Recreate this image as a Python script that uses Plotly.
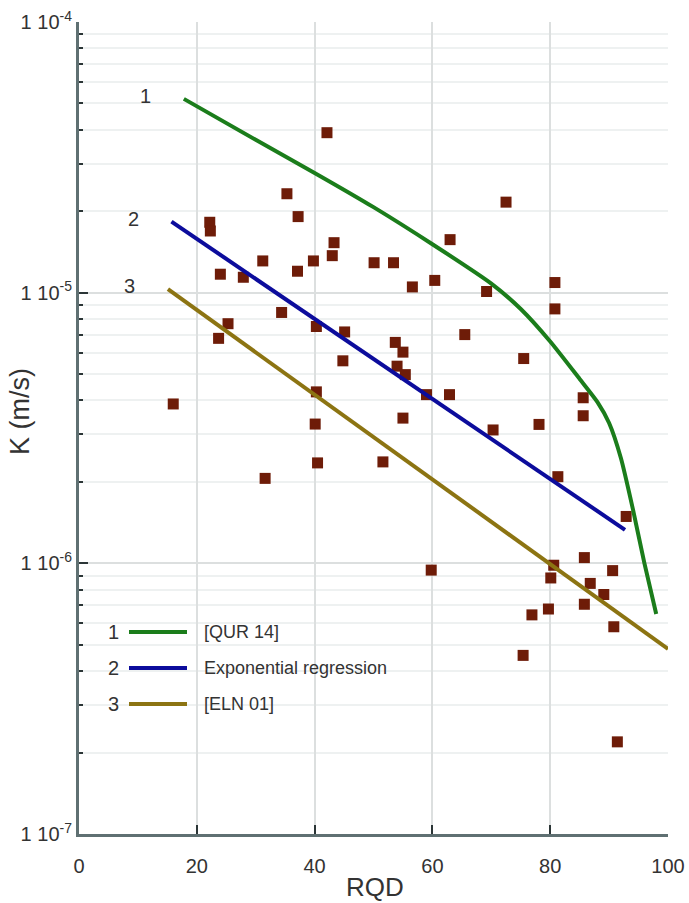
import math
import plotly.graph_objects as go

# Measured hydraulic conductivity vs RQD
rqd_obs = [16.0, 22.2, 22.3, 23.7, 24.0, 25.3, 27.9, 31.2, 31.6, 34.4, 35.3, 37.1,
           37.2, 39.8, 40.1, 40.3, 40.3, 40.5, 42.1, 43.0, 43.3, 44.8, 45.1, 50.1,
           51.6, 53.4, 53.7, 54.0, 55.0, 55.0, 55.4, 56.6, 59.0, 59.8, 60.4, 62.9,
           63.0, 65.5, 69.2, 70.3, 72.5, 75.4, 75.5, 76.9, 78.1, 79.7, 80.1, 80.6,
           80.8, 80.8, 81.3, 85.6, 85.6, 85.8, 85.8, 86.8, 89.1, 90.6, 90.8, 91.4,
           92.9]
k_obs = [3.88e-6, 1.82e-5, 1.69e-5, 6.78e-6, 1.17e-5, 7.68e-6, 1.14e-5, 1.31e-5,
         2.06e-6, 8.45e-6, 2.32e-5, 1.20e-5, 1.91e-5, 1.31e-5, 3.27e-6, 7.50e-6,
         4.30e-6, 2.35e-6, 3.90e-5, 1.37e-5, 1.53e-5, 5.60e-6, 7.16e-6, 1.29e-5,
         2.37e-6, 1.29e-5, 6.55e-6, 5.35e-6, 6.03e-6, 3.44e-6, 4.98e-6, 1.05e-5,
         4.20e-6, 9.44e-7, 1.11e-5, 4.20e-6, 1.57e-5, 7.00e-6, 1.01e-5, 3.11e-6,
         2.16e-5, 4.57e-7, 5.71e-6, 6.45e-7, 3.26e-6, 6.78e-7, 8.83e-7, 9.84e-7,
         1.09e-5, 8.71e-6, 2.09e-6, 4.09e-6, 3.51e-6, 1.05e-6, 7.06e-7, 8.43e-7,
         7.67e-7, 9.40e-7, 5.83e-7, 2.19e-7, 1.49e-6]

# Curve 1: [QUR 14]
rqd_qur = [17.8, 30, 40, 50, 60, 70, 75, 80, 85, 88, 90, 92, 94, 96, 98]
k_qur = [5.2e-5, 3.67e-5, 2.77e-5, 2.07e-5, 1.51e-5, 1.08e-5, 8.7e-6, 6.6e-6,
         4.8e-6, 3.95e-6, 3.3e-6, 2.45e-6, 1.6e-6, 1.0e-6, 6.5e-7]

# Curve 2: exponential regression
rqd_reg = [15.7, 92.7]
k_reg = [1.83e-5, 1.33e-6]

# Curve 3: [ELN 01]
rqd_eln = [15.1, 100]
k_eln = [1.03e-5, 4.83e-7]

# Axis ticks
y_major = [1e-7, 1e-6, 1e-5, 1e-4]
y_major_text = ["1 10<sup>-7</sup>", "1 10<sup>-6</sup>", "1 10<sup>-5</sup>", "1 10<sup>-4</sup>"]
mantissas = [2, 3, 4, 5, 6, 7, 8, 9]
y_minor = [m * d for d in [1e-7, 1e-6, 1e-5] for m in mantissas]
x_ticks = [0, 20, 40, 60, 80, 100]

series = [
    ("1", "[QUR 14]", "#1b7d1b", rqd_qur, k_qur, "spline"),
    ("2", "Exponential regression", "#0c0c9c", rqd_reg, k_reg, "linear"),
    ("3", "[ELN 01]", "#8c7412", rqd_eln, k_eln, "linear"),
]

MARKER = "#6e1c08"
AXIS = "#5f7072"
TICK = "#2b3536"
TEXT = "#333333"
FONT = "Liberation Sans, Arial, sans-serif"

fig = go.Figure()

fig.add_trace(go.Scatter(
    x=rqd_obs, y=k_obs, mode="markers",
    marker=dict(symbol="square", size=11, color=MARKER, line=dict(width=0)),
    showlegend=False, hoverinfo="x+y",
))

for num, name, color, xs, ys, shape in series:
    fig.add_trace(go.Scatter(
        x=xs, y=ys, mode="lines", name=name,
        line=dict(color=color, width=4, shape=shape, smoothing=0.6),
        showlegend=False,
    ))

annotations = []
shapes = []

# Curve number labels next to the start of each curve
for num, _, _, xs, ys, _ in series:
    annotations.append(dict(
        x=xs[0] - 6.5, y=math.log10(ys[0]) + 0.01, xref="x", yref="y",
        text=num, showarrow=False, font=dict(size=20, color=TEXT, family=FONT),
        xanchor="center", yanchor="middle",
    ))

# Hand-built key in the lower-left corner
W, H = 689, 903
L, R, T, B = 79, 21, 22, 69
pw, ph = W - L - R, H - T - B


def px(xp):
    return (xp - L) / pw


def py(yp):
    return 1 - (yp - T) / ph


shapes.append(dict(type="rect", xref="paper", yref="paper",
                   x0=px(84), x1=px(400), y0=py(722), y1=py(600),
                   fillcolor="white", line=dict(width=0), layer="between"))

key_rows = [632, 668, 704]
for (num, name, color, *_), yrow in zip(series, key_rows):
    annotations.append(dict(x=px(113), y=py(yrow), xref="paper", yref="paper",
                            text=num, showarrow=False, xanchor="center", yanchor="middle",
                            font=dict(size=20, color=TEXT, family=FONT)))
    shapes.append(dict(type="line", xref="paper", yref="paper",
                       x0=px(129), x1=px(187), y0=py(yrow), y1=py(yrow),
                       line=dict(color=color, width=4), layer="above"))
    annotations.append(dict(x=px(202), y=py(yrow), xref="paper", yref="paper",
                            text=name, showarrow=False, xanchor="left", yanchor="middle",
                            font=dict(size=18, color=TEXT, family=FONT)))

# Axis titles
annotations.append(dict(x=px(375), y=py(887), xref="paper", yref="paper", text="RQD",
                        showarrow=False, xanchor="center", yanchor="middle",
                        font=dict(size=26, color=TEXT, family=FONT)))
annotations.append(dict(x=px(20), y=py(412), xref="paper", yref="paper", text="K (m/s)",
                        showarrow=False, xanchor="center", yanchor="middle", textangle=-90,
                        font=dict(size=27, color=TEXT, family=FONT)))

fig.update_layout(
    width=W, height=H,
    margin=dict(l=L, r=R, t=T, b=B),
    paper_bgcolor="white", plot_bgcolor="white",
    font=dict(family=FONT, color=TEXT),
    shapes=shapes, annotations=annotations,
    showlegend=False,
)

fig.update_xaxes(
    range=[0, 100], tickvals=x_ticks, ticktext=[str(v) for v in x_ticks],
    ticks="inside", ticklen=9, tickwidth=2, tickcolor=TICK,
    showline=True, linecolor=AXIS, linewidth=3, automargin=False,
    showgrid=True, gridcolor="#dcdfdf", gridwidth=1.5, zeroline=False,
    tickfont=dict(size=20, color=TEXT, family=FONT), ticklabelstandoff=12,
)

fig.update_yaxes(
    type="log", range=[-7, -4], tickvals=y_major, ticktext=y_major_text,
    ticks="inside", ticklen=9, tickwidth=2, tickcolor=TICK,
    showline=True, linecolor=AXIS, linewidth=3, automargin=False,
    showgrid=True, gridcolor="#dcdfdf", gridwidth=1.5, zeroline=False,
    tickfont=dict(size=20, color=TEXT, family=FONT), ticklabelstandoff=0,
    minor=dict(tickvals=y_minor, ticks="inside", ticklen=4, tickwidth=1.5,
               tickcolor=TICK, showgrid=True, gridcolor="#eef1f1", gridwidth=1.5),
)

fig.write_html("out.html")
